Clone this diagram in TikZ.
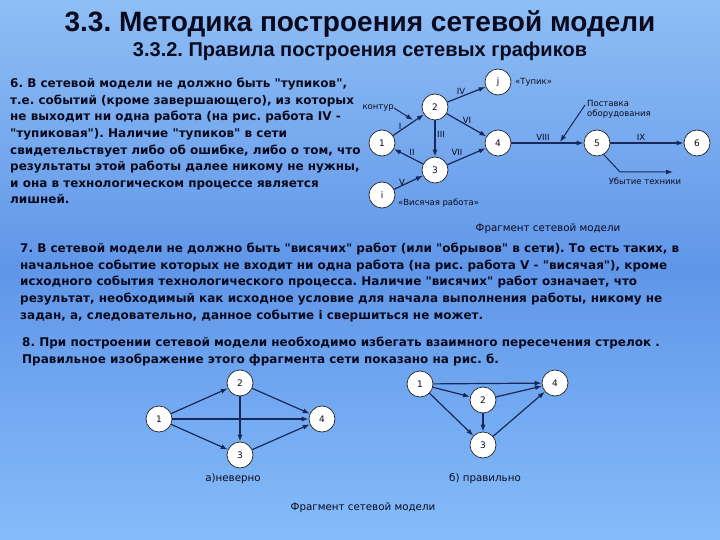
\documentclass[tikz,border=0pt]{standalone}
\usepackage{fontspec}
\usepackage{tikz}
\usetikzlibrary{arrows.meta}
\setmainfont{Liberation Sans}
\newfontfamily\dejavu{DejaVu Sans}
\frenchspacing

\definecolor{bgtop}{RGB}{142,190,245}
\definecolor{bgmid}{RGB}{96,150,232}
\definecolor{bgbot}{RGB}{132,188,250}
\definecolor{txt}{RGB}{10,10,30}
\definecolor{linecol}{RGB}{25,40,90}

\tikzset{
  ev/.style={circle, draw=black!85, fill=white, line width=0.7pt, minimum size=26pt, inner sep=0pt,
    font=\dejavu\fontsize{9}{9}\selectfont, text=txt},
  arr/.style={draw=linecol, line width=1.2pt, -{Latex[length=7pt,width=5pt]}},
  lbl/.style={font=\dejavu\fontsize{8.5}{10}\selectfont, text=txt, inner sep=0pt},
  caption/.style={font=\dejavu\fontsize{10.3}{11}\selectfont, text=txt, inner sep=0pt},
  para/.style={anchor=north west, align=left, inner sep=0pt, text=txt,
    font=\dejavu\bfseries\fontsize{12}{16.6}\selectfont}
}

\begin{document}
\begin{tikzpicture}[x=1pt,y=-1pt]
    \useasboundingbox (0,0) rectangle (720,540);
    \shade[top color=bgtop, bottom color=bgmid] (0,0) rectangle (720,270);
    \shade[top color=bgmid, bottom color=bgbot] (0,270) rectangle (720,540);

    % titles
    \node[text=txt, font=\bfseries\fontsize{28}{30}\selectfont] (title) at (360,24) {3.3. Методика построения сетевой модели};
    \node[text=txt, font=\bfseries\fontsize{20}{22}\selectfont] (subtitle) at (360,51) {3.3.2. Правила построения сетевых графиков};

    % rule 6
    \node[para] (rule6) at (10,78) {%
      6. В сетевой модели не должно быть "тупиков",\\
      т.е. событий (кроме завершающего), из которых\\
      не выходит ни одна работа (на рис. работа IV -\\
      "тупиковая"). Наличие "тупиков" в сети\\
      свидетельствует либо об ошибке, либо о том, что\\
      результаты этой работы далее никому не нужны,\\
      и она в технологическом процессе является\\
      лишней.};

    % rule 7
    \node[para] (rule7) at (20,243) {%
      7. В сетевой модели не должно быть "висячих" работ (или "обрывов" в сети). То есть таких, в\\
      начальное событие которых не входит ни одна работа (на рис. работа V - "висячая"), кроме\\
      исходного события технологического процесса. Наличие "висячих" работ означает, что\\
      результат, необходимый как исходное условие для начала выполнения работы, никому не\\
      задан, а, следовательно, данное событие i свершиться не может.};

    % rule 8
    \node[para] (rule8) at (22,337) {%
      8. При построении сетевой модели необходимо избегать взаимного пересечения стрелок .\\
      Правильное изображение этого фрагмента сети показано на рис. б.};

    % network fragment
    \node[ev] (j) at (498,82) {j};
    \node[ev] (n2) at (435,107) {2};
    \node[ev] (n1) at (382,143) {1};
    \node[ev] (n3) at (435,170) {3};
    \node[ev] (n4) at (498,143) {4};
    \node[ev] (i) at (382,195) {i};
    \node[ev] (n5) at (597,143) {5};
    \node[ev] (n6) at (697,143) {6};

    \draw[arr] (n1) -- (n2);
    \draw[arr] (n3) -- (n1);
    \draw[arr] (n2) -- (n3);
    \draw[arr] (n2) -- (j);
    \draw[arr] (i) -- (n3);
    \draw[arr] (n2) -- (n4);
    \draw[arr] (n3) -- (n4);
    \draw[arr] (n4) -- (n5);
    \draw[arr] (n5) -- (n6);

    \node[lbl] (wI) at (400,126) {I};
    \node[lbl] (wII) at (412,152) {II};
    \node[lbl] (wIII) at (441,134) {III};
    \node[lbl] (wIV) at (461,91) {IV};
    \node[lbl] (wV) at (402,182) {V};
    \node[lbl] (wVI) at (467,120) {VI};
    \node[lbl] (wVII) at (457,152) {VII};
    \node[lbl] (wVIII) at (543,137) {VIII};
    \node[lbl] (wIX) at (641,137) {IX};

    \node[lbl, anchor=west] (tupik) at (515,82) {«Тупик»};
    \node[lbl, anchor=east] (kontur) at (394,108) {контур};
    \coordinate (konturEnd) at (413,120);
    \draw[arr, line width=1pt] (kontur.east) -- (konturEnd);

    \node[lbl, anchor=north west, align=left] (postavka) at (587,100) {Поставка\\оборудования};
    \coordinate (postavkaEnd) at (560,142);
    \draw[arr, line width=1pt] (postavka.north west) ++(-2,5) -- (postavkaEnd);

    \node[lbl] (ubytie) at (645,181) {Убытие техники};
    \coordinate (ubytieBend) at (620,172);
    \coordinate (ubytieEnd) at (673,172);
    \draw[arr, line width=1pt] (n5.-60) -- (ubytieBend) -- (ubytieEnd);

    \node[lbl, anchor=west] (visyach) at (398,203) {«Висячая работа»};
    \node[caption] (frag1) at (548,229) {Фрагмент сетевой модели};

    % a) wrong
    \node[ev] (a1) at (159,419) {1};
    \node[ev] (a2) at (240,383) {2};
    \node[ev] (a3) at (240,455) {3};
    \node[ev] (a4) at (322,419) {4};
    \draw[arr] (a1) -- (a2);
    \draw[arr] (a1) -- (a4);
    \draw[arr] (a1) -- (a3);
    \draw[arr] (a2) -- (a3);
    \draw[arr] (a2) -- (a4);
    \draw[arr] (a3) -- (a4);
    \node[caption] (capA) at (233,479) {а)неверно};

    % b) right
    \node[ev] (b1) at (420,384) {1};
    \node[ev] (b2) at (483,400) {2};
    \node[ev] (b3) at (483,445) {3};
    \node[ev] (b4) at (555,383) {4};
    \draw[arr] (b1) -- (b4);
    \draw[arr] (b1) -- (b2);
    \draw[arr] (b1) -- (b3);
    \draw[arr] (b2) -- (b3);
    \draw[arr] (b2) -- (b4);
    \draw[arr] (b3) -- (b4);
    \node[caption] (capB) at (485,479) {б) правильно};

    \node[caption] (frag2) at (363,508) {Фрагмент сетевой модели};
\end{tikzpicture}
\end{document}
